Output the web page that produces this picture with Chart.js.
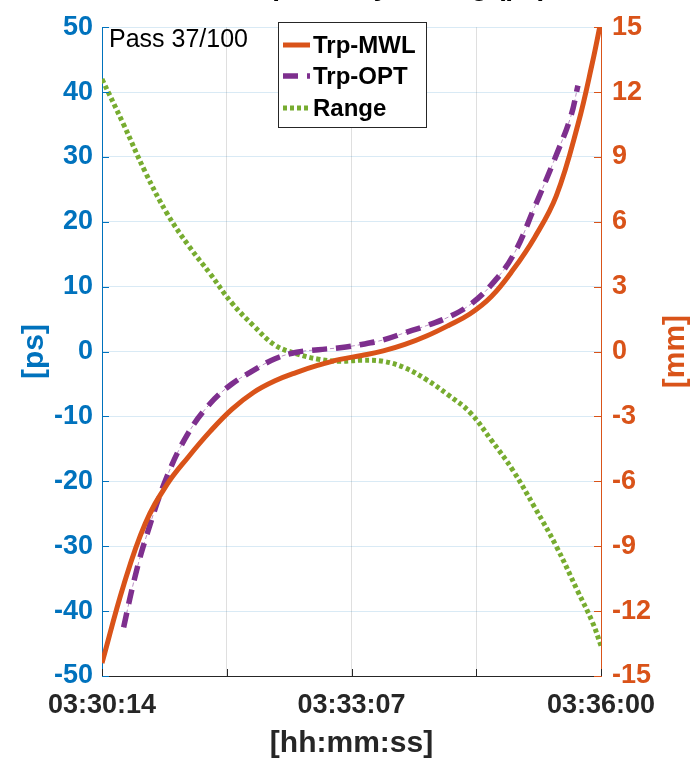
<!DOCTYPE html>
<html><head><meta charset="utf-8">
<script src="https://cdn.jsdelivr.net/npm/chart.js@4.4.1/dist/chart.umd.min.js"></script>
<style>html,body{margin:0;padding:0;background:#fff;overflow:hidden}#wrap{width:696px;height:763px;position:relative}</style>
</head><body><div id="wrap"><canvas id="c" width="696" height="763"></canvas></div>
<script>
// ---- data (seconds since 03:30:14) ----
const timeSec = [0,15,30,45,60,75,90,105,120,135,150,165,180,195,210,225,240,255,270,285,300,315,330,340,346];
const mwlPs   = [-48,-36,-26.5,-20.5,-16.2,-12.3,-8.9,-6.3,-4.5,-3.2,-2.1,-1.2,-0.6,0.1,1.1,2.4,4.0,5.8,8.5,12.6,17.6,24,35,44.5,51];
const optTime = [15,22,30,45,60,75,90,105,120,135,150,165,180,195,210,225,240,255,270,285,300,315,325,330];
const optPs   = [-42.5,-35.5,-29,-19.3,-12.5,-8,-5,-2.9,-1.1,-0.1,0.3,0.6,1.1,1.8,2.9,4.0,5.3,7.2,10.3,14.8,22.3,30.3,36.2,41];
const rangeMm = [12.6,10.5,8.3,6.4,4.9,3.6,2.25,1.2,0.3,-0.1,-0.35,-0.45,-0.4,-0.45,-0.75,-1.3,-2.0,-2.8,-4.1,-5.5,-7.2,-9.0,-11.1,-12.5,-13.6];
const xTickValues = [0,86.5,173,259.5,346];
const xTickLabels = ['03:30:14','','03:33:07','','03:36:00'];
const leftTicks  = [-50,-40,-30,-20,-10,0,10,20,30,40,50];
const rightTicks = [-15,-12,-9,-6,-3,0,3,6,9,12,15];
const seriesNames = ['Trp-MWL','Trp-OPT','Range'];

const BLUE='#0072BD', ORANGE='#D95319', PURPLE='#7E2F8E', GREEN='#77AC30', DARK='#262626';
const FONT='"Liberation Sans", Arial, Helvetica, sans-serif';

const pts = (xs, ys) => xs.map((x,i)=>({x, y: ys[i]}));

const overlay = {
  id:'overlay',
  afterDraw(chart){
    const ctx = chart.ctx, a = chart.chartArea;
    const sx = chart.scales.x, sy = chart.scales.y, sy2 = chart.scales.y2;
    ctx.save();
    ctx.lineWidth = 1;
    ctx.strokeStyle = BLUE;
    leftTicks.forEach(v=>{ const y=Math.round(sy.getPixelForValue(v))+0.5; ctx.beginPath(); ctx.moveTo(a.left,y); ctx.lineTo(a.left+7,y); ctx.stroke(); });
    ctx.strokeStyle = ORANGE;
    rightTicks.forEach(v=>{ const y=Math.round(sy2.getPixelForValue(v))+0.5; ctx.beginPath(); ctx.moveTo(a.right-7,y); ctx.lineTo(a.right,y); ctx.stroke(); });
    ctx.strokeStyle = DARK;
    xTickValues.forEach(v=>{ const x=Math.round(sx.getPixelForValue(v))+0.5; ctx.beginPath(); ctx.moveTo(x,a.bottom); ctx.lineTo(x,a.bottom-7); ctx.stroke(); });
    // title (almost entirely above the page edge; only descenders show)
    ctx.fillStyle = '#000';
    ctx.font = 'bold 28px '+FONT;
    ctx.textAlign = 'center'; ctx.textBaseline = 'alphabetic';
    ctx.fillText('Tropo Delay Timing (ps)', 388, -5);
    ctx.textAlign='left';
    ctx.font = '25px '+FONT;
    ctx.fillText('Pass 37/100', 109, 47);
    // legend
    const lx=278, ly=22, lw=148, lh=105;
    ctx.fillStyle='#fff'; ctx.fillRect(lx,ly,lw,lh);
    ctx.strokeStyle='#262626'; ctx.lineWidth=1; ctx.strokeRect(lx+0.5,ly+0.5,lw,lh);
    const rows=[45,76,108];
    const ds = chart.data.datasets;
    [0,1,3].forEach((di,k)=>{
      const d=ds[di]; const y=rows[k];
      ctx.strokeStyle=d.borderColor; ctx.lineWidth=d.borderWidth; ctx.setLineDash(d.borderDash||[]);
      ctx.beginPath(); ctx.moveTo(283,y); ctx.lineTo(310,y); ctx.stroke();
      ctx.setLineDash([]);
      ctx.fillStyle='#000'; ctx.font='bold 24px '+FONT; ctx.textBaseline='middle';
      ctx.fillText(seriesNames[k], 313, y+1);
    });
    // axis titles
    ctx.font='bold 30px '+FONT; ctx.textAlign='center'; ctx.textBaseline='middle';
    ctx.fillStyle=BLUE;
    ctx.save(); ctx.translate(35,(a.top+a.bottom)/2); ctx.rotate(-Math.PI/2); ctx.fillText('[ps]',0,0); ctx.restore();
    ctx.fillStyle=ORANGE;
    ctx.save(); ctx.translate(676,(a.top+a.bottom)/2); ctx.rotate(-Math.PI/2); ctx.fillText('[mm]',0,0); ctx.restore();
    ctx.fillStyle=DARK;
    ctx.fillText('[hh:mm:ss]', (a.left+a.right)/2, 744);
    ctx.restore();
  }
};

new Chart(document.getElementById('c'), {
  type:'line',
  data:{ datasets:[
    { label:seriesNames[0], data:pts(timeSec,mwlPs), yAxisID:'y', borderColor:ORANGE, borderWidth:5, pointRadius:0, tension:0.4, fill:false },
    { label:seriesNames[1], data:pts(optTime,optPs), yAxisID:'y', borderColor:PURPLE, borderWidth:5.5, borderDash:[15,9], pointRadius:0, tension:0.4, fill:false },
    { label:'', data:pts(optTime,optPs), yAxisID:'y', borderColor:'rgba(126,47,142,0.55)', borderWidth:1, borderDash:[4,3], pointRadius:0, tension:0.4, fill:false },
    { label:seriesNames[2], data:pts(timeSec,rangeMm), yAxisID:'y2', borderColor:GREEN, borderWidth:5, borderDash:[4,3], pointRadius:0, tension:0.4, fill:false }
  ]},
  options:{
    responsive:false, animation:false, devicePixelRatio:1,
    layout:{ padding:{ top:14, left:0, right:0, bottom:0 } },
    plugins:{ legend:{display:false}, tooltip:{enabled:false}, title:{display:false} },
    scales:{
      x:{ type:'linear', min:0, max:346,
        afterBuildTicks:s=>{ s.ticks = xTickValues.map(v=>({value:v})); },
        afterFit:s=>{ s.height = 87; },
        ticks:{ autoSkip:false, maxRotation:0, padding:13, color:DARK, font:{family:FONT, size:27, weight:'bold'},
          callback:(v,i)=>xTickLabels[i] },
        grid:{ color:'rgba(38,38,38,0.15)', drawTicks:false },
        border:{ color:DARK, width:1 } },
      y:{ position:'left', min:-50, max:50,
        afterBuildTicks:s=>{ s.ticks = leftTicks.map(v=>({value:v})); },
        afterFit:s=>{ s.width = 102; },
        ticks:{ padding:9, color:BLUE, font:{family:FONT, size:27, weight:'bold'} },
        grid:{ color:'rgba(0,114,189,0.15)', drawTicks:false },
        border:{ color:BLUE, width:1 } },
      y2:{ position:'right', min:-15, max:15,
        afterBuildTicks:s=>{ s.ticks = rightTicks.map(v=>({value:v})); },
        afterFit:s=>{ s.width = 95; },
        ticks:{ padding:11, color:ORANGE, font:{family:FONT, size:27, weight:'bold'} },
        grid:{ drawOnChartArea:false, drawTicks:false },
        border:{ color:ORANGE, width:1 } }
    }
  },
  plugins:[overlay]
});
</script></body></html>
